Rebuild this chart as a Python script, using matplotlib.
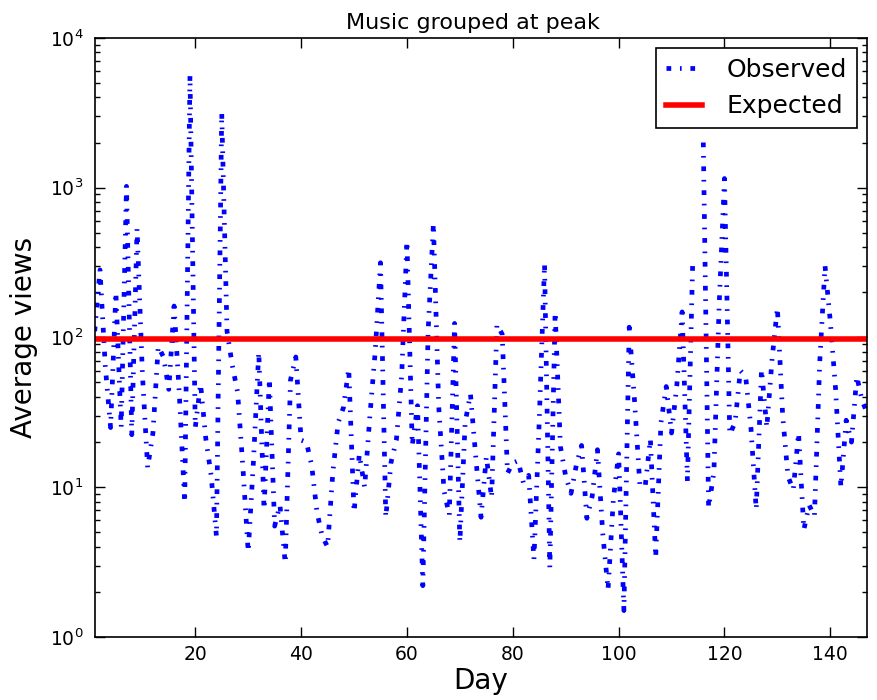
import matplotlib
matplotlib.use("Agg")
import matplotlib.pyplot as plt
import numpy as np

days = list(range(1, 148))
nan = float('nan')
observed = [
    110, 282, 64, 25, 200, 25, 1020, 22.4, 530, 58,
    13.5, 23, 87, 74, 45, 162, 41, 7.9, 5600, 25,
    49, 21, 12, 4.7, 3150, 110, 65, 43, 13.6, 3.7,
    15, 80, 7.1, 53, 5.5, 7.6, 3.1, 52, 74, 20.6,
    20, 14, 6.8, 4.7, 4.0, 12.6, 27, 34, 62, 6.8,
    16.6, 10, 30, 80, 315, 6.3, 14.7, 20.6, 55, 440,
    19, 35, 2.2, 110, 575, 35, 9.5, 6.5, 124, 4.3,
    27, 42, 16, 6.3, 16, 8.5, 122, 105, 12.4, 14.5,
    15, 10.7, 12, 3.3, 28, 310, 2.9, 148, 18.7, 11.8,
    9.1, 14, 19, 6.2, 8.7, 17.8, 4.9, 2.07, 8.3, 16.7,
    1.5, 117, 38, 10.5, 10, 21, 3.4, 27, 47, 23,
    48, 148, 11, 320, nan, 2000, 7.3, 12.6, 165, 1150,
    22.5, 27, 60, 55, 25, 7.1, 61, 25, 72, 158,
    30, 11.8, 9.6, 23, 5.2, 7.6, 6.4, 68, 300, 128,
    45, 10, 28, 20, 55, 38, 31,
]
expected = 97
xticks = [20, 40, 60, 80, 100, 120, 140]

plt.rcParams['lines.scale_dashes'] = False
plt.rcParams['font.family'] = ['DejaVu Sans']

fig = plt.figure(figsize=(8.77, 7.0), dpi=100)
ax = fig.add_axes([0.108, 0.09, 0.881, 0.856])

ax.plot(days, observed, color='b', linestyle='-.', lw=3.4,
        dashes=[3.4, 6.3, 1.2, 6.3], label='Observed')
ax.axhline(expected, color='r', lw=4, label='Expected')

ax.set_yscale('log')
ax.set_ylim(1, 1e4)
ax.set_xlim(1, 147)
ax.set_xticks(xticks)

ax.tick_params(which='both', direction='in', top=True, right=True,
               labelsize=13.5)
ax.tick_params(axis='y', which='both', pad=8)
ax.tick_params(axis='x', which='both', pad=6)
ax.tick_params(which='major', length=7, width=1)
ax.tick_params(which='minor', length=3.5, width=1)
for s in ax.spines.values():
    s.set_linewidth(1.2)

ax.set_title('Music grouped at peak', fontsize=16, x=0.49)
ax.set_xlabel('Day', fontsize=20, labelpad=2)
ax.set_ylabel('Average views', fontsize=20)
ax.yaxis.set_label_coords(-0.074, 0.5)

leg = ax.legend(loc='upper right', fontsize=18, fancybox=False,
                framealpha=1, edgecolor='black', handlelength=1.45,
                handletextpad=1.0, borderaxespad=0.4)
leg.get_frame().set_linewidth(1.2)

fig.savefig('out.png', dpi=100, facecolor='white')
